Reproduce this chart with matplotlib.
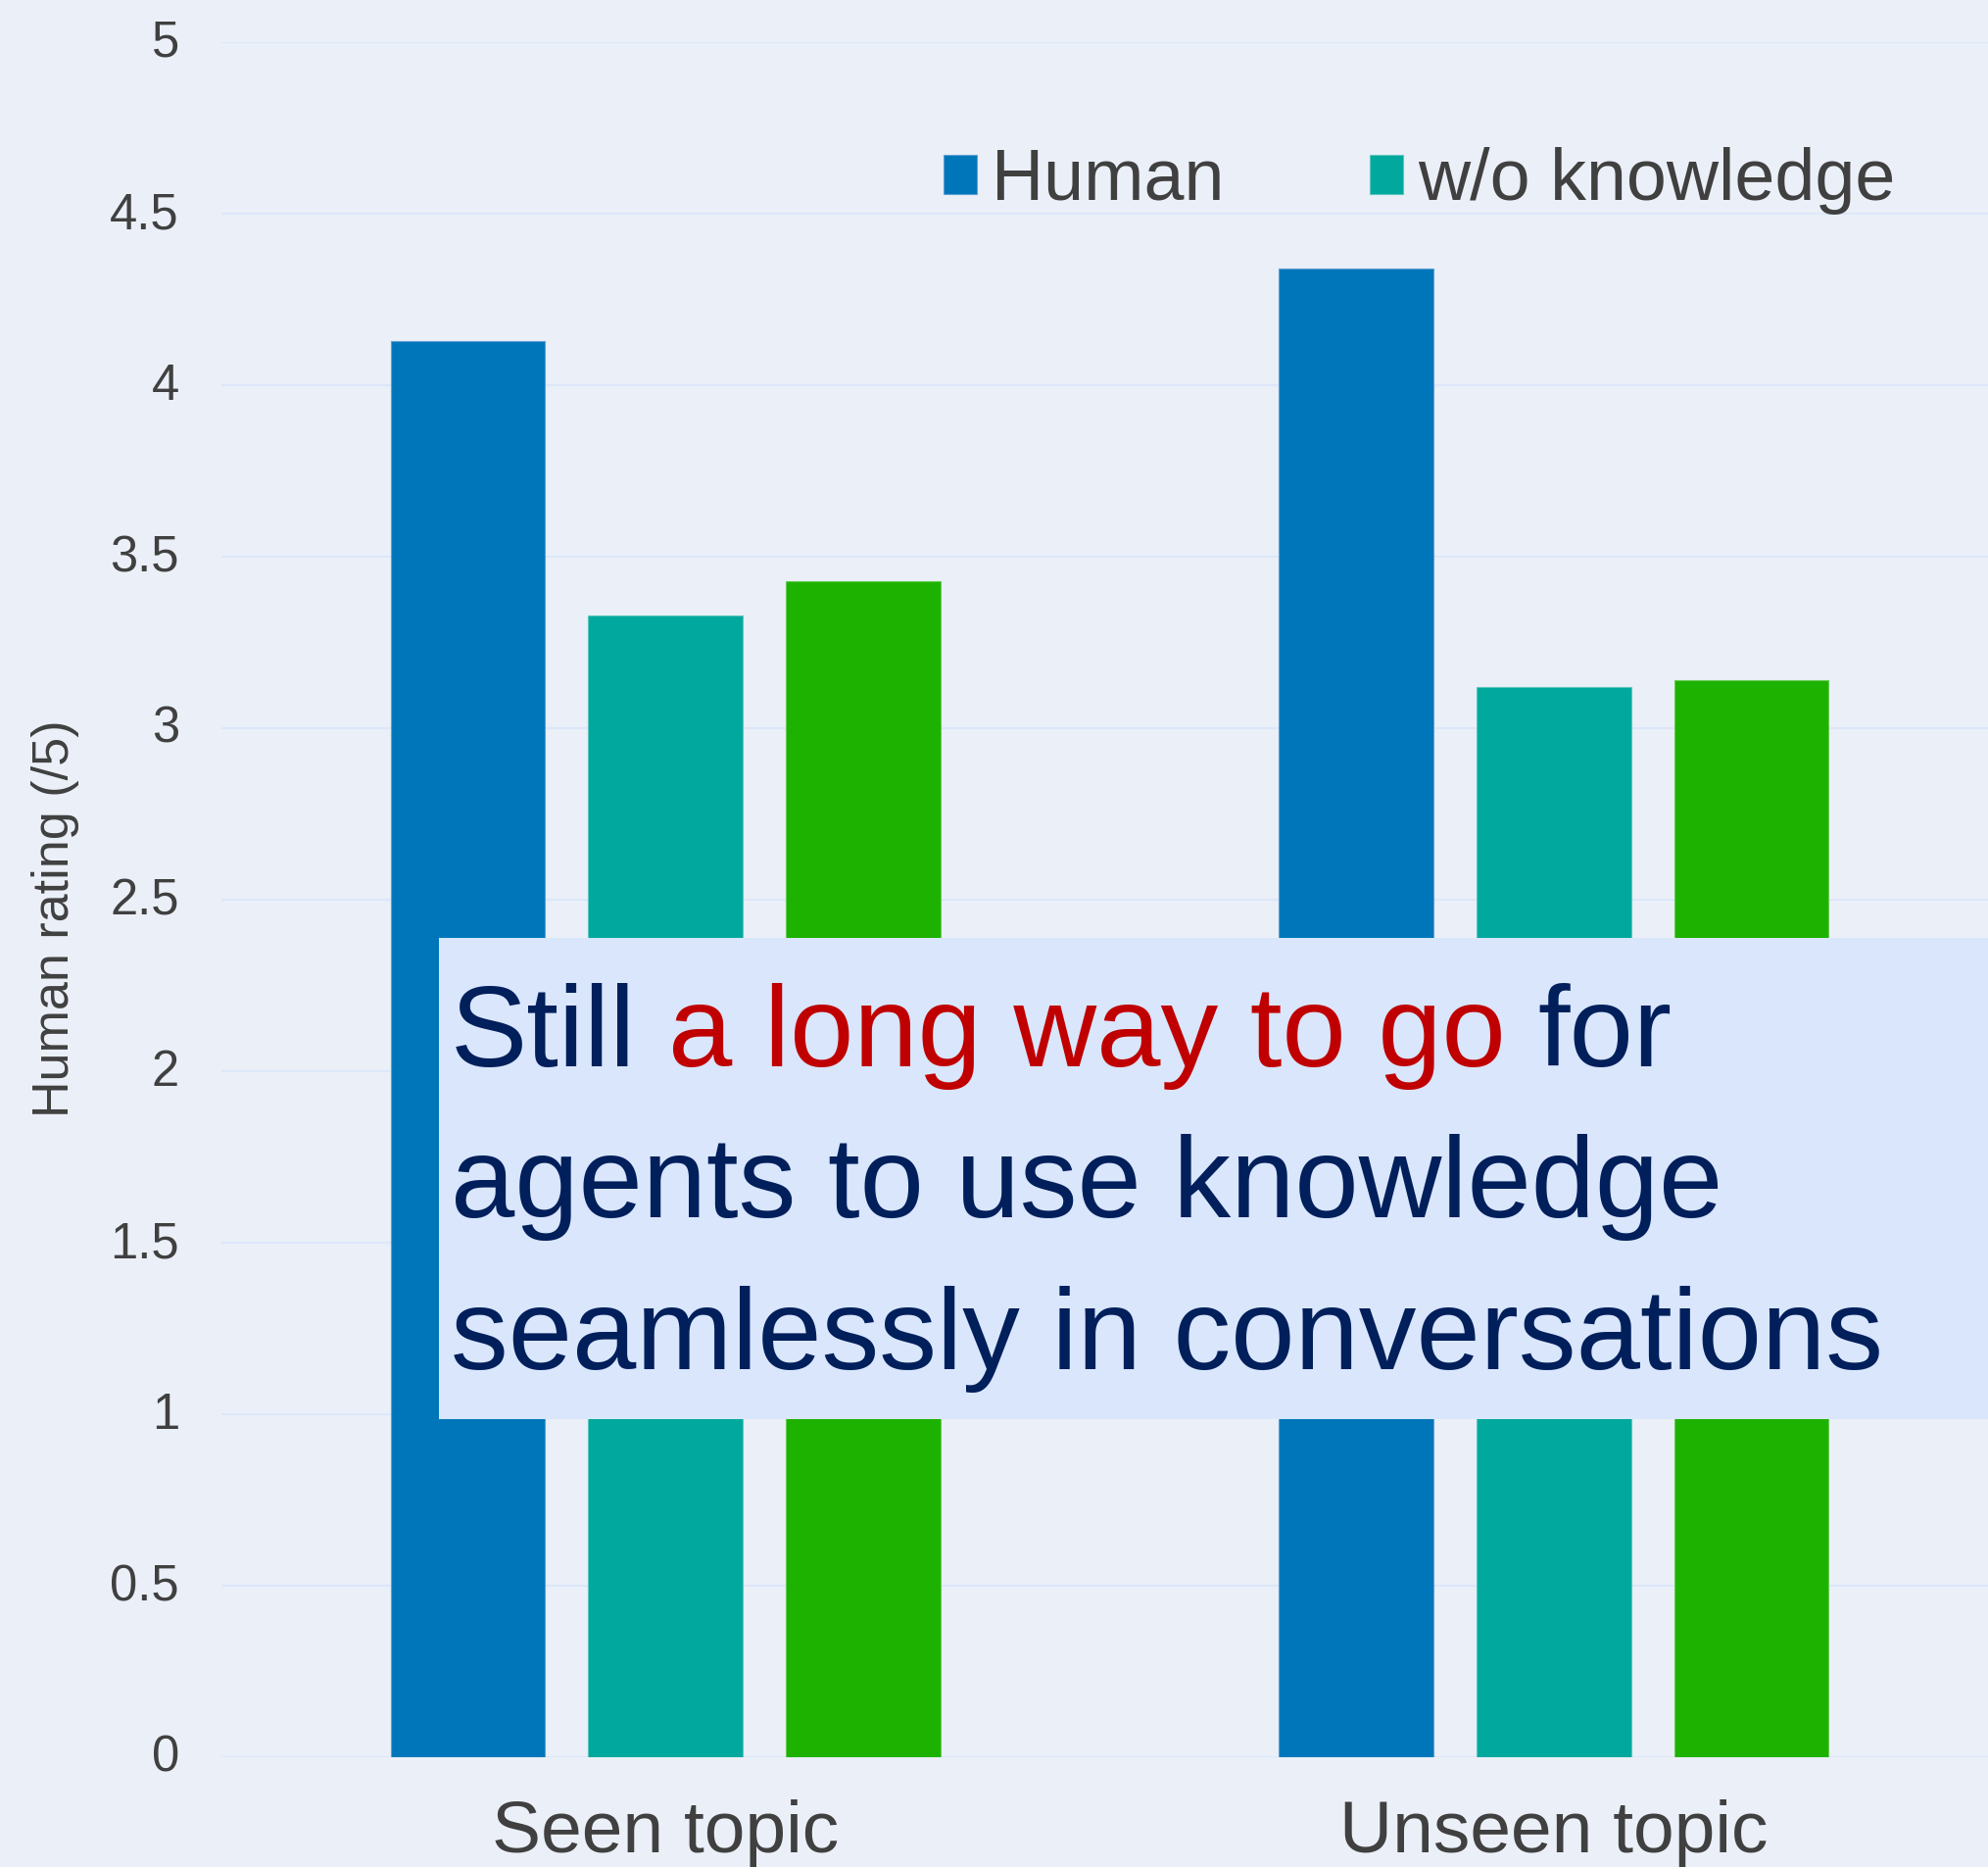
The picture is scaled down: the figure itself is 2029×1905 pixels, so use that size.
import matplotlib
matplotlib.use("Agg")
import matplotlib.pyplot as plt
from matplotlib.patches import Rectangle
from matplotlib.ticker import FuncFormatter
from matplotlib.transforms import ScaledTranslation
import numpy as np

plt.rcParams['font.family'] = ['Liberation Sans', 'DejaVu Sans']

# ---- data ----
categories = ["Seen topic", "Unseen topic"]
series_names = ["Human", "w/o knowledge", "w/ knowledge"]
human = [4.13, 4.34]
wo_knowledge = [3.33, 3.12]
w_knowledge = [3.43, 3.14]
y_ticks = [0, 0.5, 1, 1.5, 2, 2.5, 3, 3.5, 4, 4.5, 5]
ylabel = "Human rating (/5)"
msg_line1 = ["Still", "a long way to go", "for"]
msg_line2 = "agents to use knowledge"
msg_line3 = "seamlessly in conversations"

# ---- style ----
W, H, DPI = 2029, 1905, 100
bg = "#EBF0F8"
grid_c = "#DCE7F9"
txt_c = "#404040"
colors = ["#0076BA", "#00A89D", "#1DB100"]
edge_colors = ["#5E9FD3", "#5CC7BE", "#66CC55"]
navy = "#011F5B"
red = "#C00000"

fig = plt.figure(figsize=(W / DPI, H / DPI), dpi=DPI, facecolor=bg)
ax_left, ax_bottom = 226 / W, (H - 1793) / H
ax = fig.add_axes([ax_left, ax_bottom, 1 - ax_left, (1793 - 43) / H])
ax.set_facecolor(bg)

x = np.arange(len(categories))
step = 0.2227
width = 0.174
series = [human, wo_knowledge, w_knowledge]
for i, (vals, name) in enumerate(zip(series, series_names)):
    ax.bar(x + (i - 1) * step, vals, width, color=colors[i], label=name,
           edgecolor=edge_colors[i], linewidth=0.8, zorder=3)

ax.set_xlim(-0.5, (W - 678.5) / 907)
ax.set_ylim(0, 5)
ax.set_yticks(y_ticks)
ax.yaxis.set_major_formatter(FuncFormatter(lambda v, p: f"{v:g}"))
ax.set_xticks(x)
ax.set_xticklabels(categories)
ax.tick_params(axis='y', length=0, pad=31, labelsize=36.5, labelcolor=txt_c)
ax.tick_params(axis='x', length=0, pad=31, labelsize=54, labelcolor=txt_c)
ax.grid(axis='y', color=grid_c, linewidth=1.6, zorder=0)
ax.set_axisbelow(True)
for s in ax.spines.values():
    s.set_visible(False)
shift_up = ScaledTranslation(0, 4 / DPI, fig.dpi_scale_trans)
for lab in ax.get_yticklabels():
    lab.set_transform(lab.get_transform() + shift_up)

ax.set_ylabel(ylabel, fontsize=37.5, color=txt_c, ha='center', va='center')
ax.yaxis.set_label_coords((57 - 226) / (W - 226), (1793 - 937) / 1750)

# legend (third entry lies beyond the visible area in the original)
handles, labels = ax.get_legend_handles_labels()
leg = fig.legend(handles[:2], labels[:2], loc='upper left',
                 bbox_to_anchor=(963 / W, (H - 150) / H), ncol=2, frameon=False,
                 fontsize=53, labelcolor=txt_c, handlelength=0.46, handleheight=0.46,
                 handletextpad=0.2, columnspacing=2.03, borderpad=0, borderaxespad=0)

# annotation box
box = Rectangle((448 / W, (H - 1448) / H), (W - 448) / W + 0.05, (1448 - 957) / H,
                transform=fig.transFigure, facecolor="#D9E6FC", edgecolor='none', zorder=5)
fig.add_artist(box)

fs = 84.5
x0 = 460 / W
base1 = (H - 1088) / H
base2 = (H - 1242) / H
base3 = (H - 1397) / H
renderer = fig.canvas.get_renderer()
space_px = 0.278 * fs * DPI / 72
cur = x0
for piece, col in zip(msg_line1, [navy, red, navy]):
    t = fig.text(cur, base1, piece, fontsize=fs, color=col, va='baseline', ha='left', zorder=6)
    bb = t.get_window_extent(renderer)
    cur = (bb.x1 + space_px) / W
fig.text(x0, base2, msg_line2, fontsize=fs, color=navy, va='baseline', ha='left', zorder=6)
fig.text(x0, base3, msg_line3, fontsize=fs, color=navy, va='baseline', ha='left', zorder=6)

fig.savefig("out.png", dpi=DPI, facecolor=bg)
